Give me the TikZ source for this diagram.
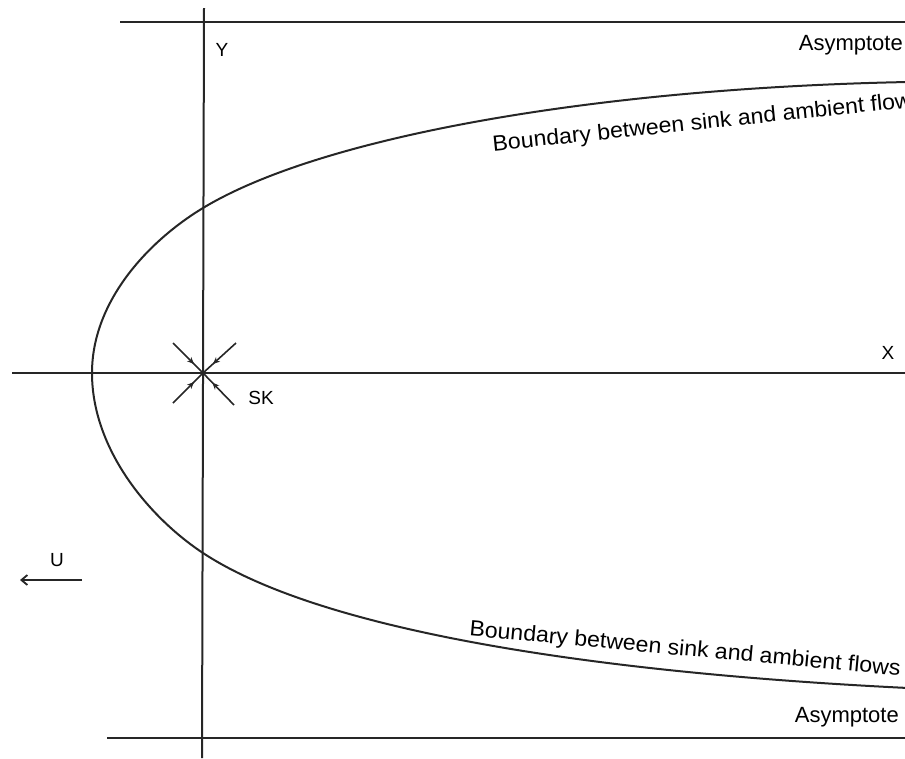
\documentclass[tikz,border=0pt]{standalone}
\usepackage{fontspec}
\setmainfont{Liberation Sans}
\usetikzlibrary{arrows.meta,calc}
\begin{document}
\begin{tikzpicture}[x=1pt,y=-1pt,
  ln/.style={line width=2pt,black!85},
  lbl/.style={inner sep=0pt,font=\fontsize{22}{26}\selectfont},
  sml/.style={inner sep=0pt,font=\fontsize{19}{22}\selectfont},
  tip/.style={-{Stealth[length=7pt,width=6pt]}}]
\useasboundingbox (0,0) rectangle (905,758);
% axes and asymptotes
\coordinate (ytop) at (204,8);
\coordinate (ybot) at (202,758);
\coordinate (xl) at (12,373);
\coordinate (xr) at (905,373);
\coordinate (atl) at (120,22);
\coordinate (atr) at (905,22);
\coordinate (abl) at (107,738);
\coordinate (abr) at (905,738);
\coordinate (O) at (203,373);
\draw[ln] (ytop) -- (ybot);
\draw[ln] (xl) -- (xr);
\draw[ln] (atl) -- (atr);
\draw[ln] (abl) -- (abr);
% boundary curve
\coordinate (vtx) at (92,373);
\coordinate (cy1) at (203,208);
\coordinate (cy2) at (203,553);
\coordinate (e1) at (908,82);
\coordinate (e2) at (908,688);
\draw[ln] (e1) .. controls (600,88) and (323,135.5) .. (cy1)
  .. controls (150,240) and (92,300) .. (vtx)
  .. controls (92,450) and (150,518) .. (cy2)
  .. controls (323,632) and (600,673) .. (e2);
% sink arrows
\coordinate (s1) at (173,343);
\coordinate (s2) at (236,343);
\coordinate (s3) at (173,403);
\coordinate (s4) at (234,405);
\foreach \s in {s1,s2,s3,s4}{
  \draw[ln,line width=1.6pt,tip] (\s) -- ($(\s)!0.7!(O)$);
  \draw[ln,line width=1.6pt] ($(\s)!0.65!(O)$) -- (O);
}
% U arrow
\coordinate (ua) at (82,580);
\coordinate (ub) at (20,580);
\draw[ln,line width=1.8pt,-{Straight Barb[length=6pt,width=10pt]}] (ua) -- (ub);
% labels
\node[sml] (Y) at (222,50) {Y};
\node[sml] (X) at (888,353) {X};
\node[sml] (U) at (57,560) {U};
\node[sml] (SK) at (261,398) {SK};
\node[lbl,anchor=east] (as1) at (903,45) {Asymptote};
\node[lbl,anchor=east] (as2) at (899,717) {Asymptote};
\node[lbl,rotate=6,xscale=1.05] (b1) at (708,123) {Boundary between sink and ambient flows};
\node[lbl,rotate=-5.3,xscale=1.05] (b2) at (685,650) {Boundary between sink and ambient flows};
\end{tikzpicture}
\end{document}
